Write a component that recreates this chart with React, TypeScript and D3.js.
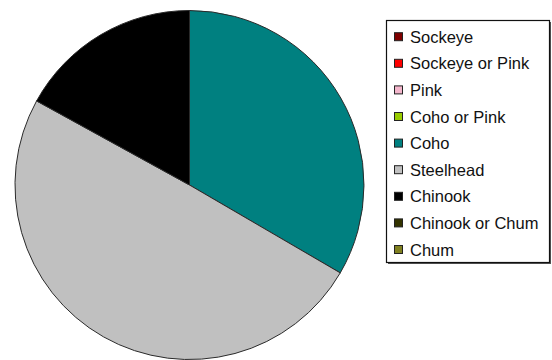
import React from "react";
import * as d3 from "d3";

const categories = [
  "Sockeye",
  "Sockeye or Pink",
  "Pink",
  "Coho or Pink",
  "Coho",
  "Steelhead",
  "Chinook",
  "Chinook or Chum",
  "Chum",
];
const values = [0, 0, 0, 0, 33.4, 49.6, 17.0, 0, 0];
const colors = [
  "#800000",
  "#FF0000",
  "#F4B6CC",
  "#99CC00",
  "#008080",
  "#C0C0C0",
  "#000000",
  "#333300",
  "#808020",
];

const W = 552;
const H = 360;
const cx = 189.5;
const cy = 185;
const R = 174.5;

export default function App() {
  const data = categories.map((c, i) => ({ name: c, value: values[i], color: colors[i] }));
  const pie = d3.pie<any>().value((d) => d.value).sort(null);
  const arcs = pie(data);
  const arc = d3.arc<any>().innerRadius(0).outerRadius(R);
  const rowY = d3.scalePoint<string>().domain(categories).range([36.7, 249.5]);

  return (
    <svg
      width={W}
      height={H}
      style={{ position: "absolute", left: 0, top: 0, background: "#fff" }}
      fontFamily="'Liberation Sans', Arial, sans-serif"
    >
      <rect x={0} y={0} width={W} height={H} fill="#fff" />
      <g transform={`translate(${cx},${cy})`}>
        {arcs
          .filter((a) => a.value > 0)
          .map((a, i) => (
            <path key={i} d={arc(a) || ""} fill={a.data.color} stroke="#2a2a2a" strokeWidth={1} />
          ))}
      </g>
      <g>
        <rect x={388} y={22} width={163} height={242} fill="#555" />
        <rect x={386.5} y={20.5} width={163} height={242} fill="#fff" stroke="#111" strokeWidth={1.2} />
        {categories.map((c, i) => {
          const y = rowY(c) as number;
          return (
            <g key={c}>
              <rect x={394.5} y={y - 4} width={8} height={8} fill={colors[i]} stroke="#222" strokeWidth={1} />
              <text x={410} y={y + 6} fontSize={16.5} fill="#111">
                {c}
              </text>
            </g>
          );
        })}
      </g>
    </svg>
  );
}
